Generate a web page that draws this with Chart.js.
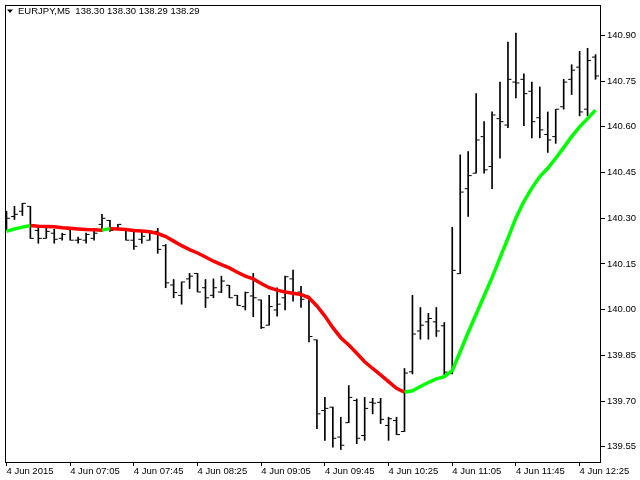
<!DOCTYPE html>
<html>
<head>
<meta charset="utf-8">
<script src="https://cdn.jsdelivr.net/npm/chart.js@4.4.0/dist/chart.umd.min.js"></script>
<style>
  html, body { margin: 0; padding: 0; background: #fff; }
</style>
</head>
<body>
<canvas id="priceChart" width="640" height="480"></canvas>
<script>
// Datos OHLC EURJPY M5
const open = [140.283, 140.306, 140.323, 140.339, 140.260, 140.234, 140.251, 140.234, 140.264, 140.228,
  140.228, 140.234, 140.280, 140.293, 140.264, 140.264, 140.228, 140.231, 140.228, 140.257,
  140.210, 140.081, 140.047, 140.101, 140.119, 140.072, 140.047, 140.058, 140.080, 140.047,
  140.010, 140.045, 140.032, 139.949, 139.999, 140.039, 140.101, 140.058, 140.045, 139.901,
  139.669, 139.680, 139.582, 139.629, 139.702, 139.587, 139.696, 139.696, 139.620, 139.636,
  139.600, 139.796, 139.930, 139.960, 139.960, 139.947, 139.791, 140.118, 140.397, 140.448,
  140.568, 140.470, 140.627, 140.606, 140.747, 140.756, 140.717, 140.630, 140.575, 140.568,
  140.666, 140.756, 140.796, 140.658, 140.829];
const high = [140.323, 140.339, 140.349, 140.339, 140.267, 140.267, 140.264, 140.251, 140.264, 140.238,
  140.251, 140.267, 140.313, 140.293, 140.280, 140.267, 140.264, 140.257, 140.260, 140.267,
  140.214, 140.099, 140.091, 140.119, 140.119, 140.099, 140.101, 140.110, 140.080, 140.047,
  140.058, 140.119, 140.032, 140.047, 140.072, 140.110, 140.130, 140.077, 140.045, 139.901,
  139.712, 139.680, 139.647, 139.751, 139.707, 139.712, 139.709, 139.709, 139.647, 139.647,
  139.807, 140.047, 140.007, 139.988, 140.007, 139.958, 140.270, 140.508, 140.519, 140.709,
  140.617, 140.649, 140.747, 140.878, 140.908, 140.774, 140.747, 140.731, 140.649, 140.658,
  140.756, 140.804, 140.848, 140.858, 140.837];
const low = [140.260, 140.296, 140.309, 140.234, 140.218, 140.234, 140.218, 140.228, 140.228, 140.218,
  140.218, 140.228, 140.257, 140.257, 140.264, 140.228, 140.198, 140.218, 140.228, 140.185,
  140.072, 140.039, 140.018, 140.069, 140.058, 140.007, 140.039, 140.056, 140.039, 140.014,
  139.999, 139.977, 139.938, 139.949, 139.979, 139.999, 140.028, 140.007, 139.894, 139.609,
  139.571, 139.549, 139.541, 139.629, 139.560, 139.571, 139.658, 139.626, 139.571, 139.590,
  139.600, 139.789, 139.903, 139.903, 139.912, 139.787, 139.789, 140.118, 140.306, 140.448,
  140.448, 140.397, 140.497, 140.597, 140.695, 140.604, 140.564, 140.564, 140.516, 140.546,
  140.658, 140.706, 140.636, 140.636, 140.756];
const close = [140.300, 140.313, 140.349, 140.234, 140.234, 140.257, 140.231, 140.247, 140.228, 140.231,
  140.247, 140.251, 140.300, 140.260, 140.280, 140.228, 140.208, 140.241, 140.251, 140.198,
  140.088, 140.056, 140.091, 140.110, 140.058, 140.039, 140.072, 140.094, 140.039, 140.014,
  140.056, 140.039, 139.941, 140.010, 140.018, 140.108, 140.054, 140.034, 139.912, 139.658,
  139.676, 139.578, 139.555, 139.712, 139.578, 139.676, 139.693, 139.640, 139.642, 139.590,
  139.792, 139.920, 139.949, 139.971, 139.930, 139.795, 140.129, 140.386, 140.440, 140.557,
  140.459, 140.639, 140.617, 140.756, 140.744, 140.709, 140.617, 140.590, 140.557, 140.658,
  140.747, 140.786, 140.649, 140.818, 140.767];
// Media movil (verde sube, rojo baja)
const ma = [140.257, 140.265, 140.271, 140.276, 140.274, 140.273, 140.272, 140.269, 140.267, 140.265,
  140.263, 140.262, 140.261, 140.266, 140.265, 140.263, 140.260, 140.258, 140.256, 140.250,
  140.240, 140.225, 140.210, 140.197, 140.186, 140.173, 140.159, 140.148, 140.137, 140.123,
  140.110, 140.101, 140.086, 140.072, 140.064, 140.058, 140.054, 140.050, 140.039, 140.012,
  139.979, 139.941, 139.908, 139.884, 139.857, 139.829, 139.807, 139.786, 139.764, 139.742,
  139.729, 139.734, 139.748, 139.761, 139.773, 139.780, 139.800, 139.862, 139.925, 139.985,
  140.045, 140.105, 140.170, 140.235, 140.301, 140.355, 140.399, 140.437, 140.464, 140.497,
  140.532, 140.568, 140.600, 140.627, 140.655];

// Ejes
const tickBars = [0, 8, 16, 24, 32, 40, 48, 56, 64, 72];
const tickLabels = ['4 Jun 2015', '4 Jun 07:05', '4 Jun 07:45', '4 Jun 08:25', '4 Jun 09:05',
  '4 Jun 09:45', '4 Jun 10:25', '4 Jun 11:05', '4 Jun 11:45', '4 Jun 12:25'];
const priceTicks = [139.55, 139.70, 139.85, 140.00, 140.15, 140.30, 140.45, 140.60, 140.75, 140.90];
const titleText = 'EURJPY,M5  138.30 138.30 138.29 138.29';

const axisFont = { family: '"Liberation Sans", Arial, sans-serif', size: 9.5 };

// Marco y titulo
const framePlugin = {
  id: 'frame',
  afterDraw(chart) {
    const { ctx, chartArea: a } = chart;
    ctx.save();
    ctx.strokeStyle = '#000';
    ctx.lineWidth = 1;
    ctx.strokeRect(a.left + 0.5, a.top + 0.5, a.right - a.left - 1, a.bottom - a.top);
    ctx.fillStyle = '#000';
    ctx.beginPath();
    ctx.moveTo(7, 9.5); ctx.lineTo(13, 9.5); ctx.lineTo(10, 13); ctx.closePath();
    ctx.fill();
    ctx.font = '9.5px "Liberation Sans", Arial, sans-serif';
    ctx.textBaseline = 'middle';
    ctx.fillText(titleText, 18, 11.5);
    ctx.restore();
  }
};

new Chart(document.getElementById('priceChart'), {
  type: 'line',
  data: {
    datasets: [
      {
        type: 'line',
        data: ma.map((v, i) => ({ x: i, y: v })),
        borderWidth: 3.5,
        pointRadius: 0,
        tension: 0,
        order: 0,
        segment: {
          borderColor: c => c.p1.parsed.y >= c.p0.parsed.y ? '#00ff00' : '#ff0000'
        }
      },
      {
        type: 'bar',
        data: high.map((h, i) => ({ x: i, y: [low[i], h] })),
        backgroundColor: '#000',
        borderWidth: 0,
        barThickness: 1,
        grouped: false,
        order: 1
      },
      {
        type: 'line',
        data: open.map((v, i) => ({ x: i - 0.25, y: v })),
        showLine: false,
        pointStyle: 'line',
        pointRadius: 1.5,
        pointBorderWidth: 1,
        pointBorderColor: '#000',
        order: 2
      },
      {
        type: 'line',
        data: close.map((v, i) => ({ x: i + 0.25, y: v })),
        showLine: false,
        pointStyle: 'line',
        pointRadius: 1.5,
        pointBorderWidth: 1,
        pointBorderColor: '#000',
        order: 2
      }
    ]
  },
  options: {
    responsive: false,
    animation: false,
    layout: { padding: { left: 2, top: 3, right: 0, bottom: 0 } },
    plugins: { legend: { display: false }, tooltip: { enabled: false } },
    scales: {
      x: {
        type: 'linear',
        min: -0.1875,
        max: 74.6875,
        offset: false,
        border: { display: false },
        grid: { offset: false, drawOnChartArea: false, drawTicks: true, tickLength: 4, color: '#000' },
        afterBuildTicks: s => { s.ticks = tickBars.map(v => ({ value: v })); },
        ticks: {
          autoSkip: false, maxRotation: 0, align: 'start', padding: 0, color: '#000', font: axisFont,
          callback: (v, i) => tickLabels[i]
        },
        afterFit: s => { s.height = 18; s.paddingLeft = 0; s.paddingRight = 0; }
      },
      y: {
        position: 'right',
        min: 139.5,
        max: 141.0,
        border: { display: false },
        grid: { drawOnChartArea: false, drawTicks: true, tickLength: 4, color: '#000' },
        afterBuildTicks: s => { s.ticks = priceTicks.map(v => ({ value: v })); },
        ticks: { padding: 2, color: '#000', font: axisFont, callback: v => v.toFixed(2) },
        afterFit: s => { s.width = 39; s.paddingTop = 0; s.paddingBottom = 0; }
      }
    }
  },
  plugins: [framePlugin]
});
</script>
</body>
</html>
